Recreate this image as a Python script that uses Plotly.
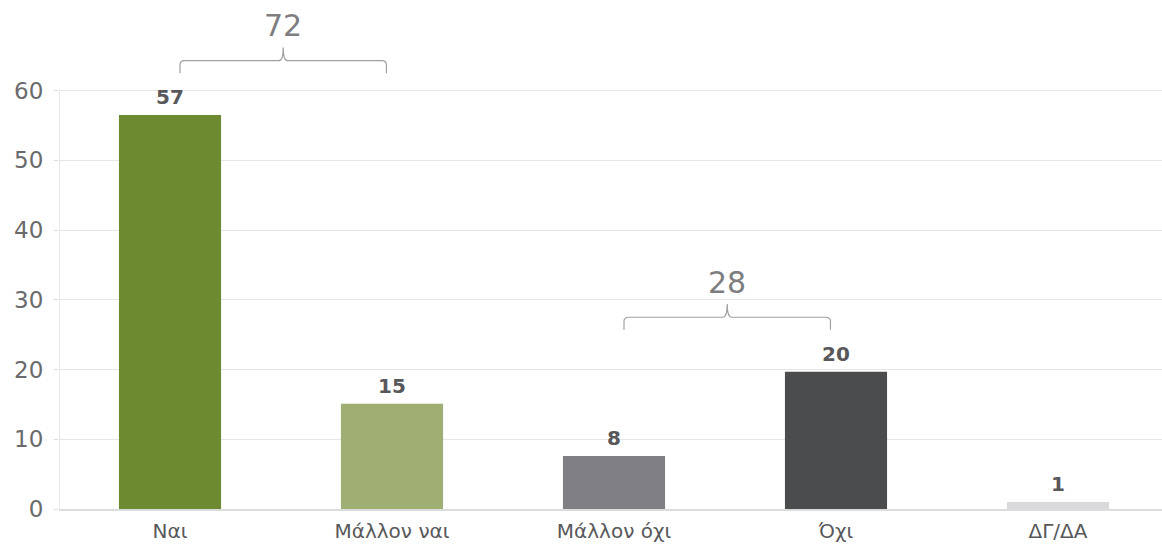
import plotly.graph_objects as go

categories = ["Ναι", "Μάλλον ναι", "Μάλλον όχι", "Όχι", "ΔΓ/ΔΑ"]
values = [56.5, 15.1, 7.6, 19.7, 1.0]
value_labels = ["57", "15", "8", "20", "1"]
bar_colors = ["#6d8a30", "#9fae72", "#808084", "#4b4c4e", "#d9d9db"]

# grouped totals: (first index, last index, label)
group_spans = [(0, 1, "72"), (2, 3, "28")]
y_ticks = [0, 10, 20, 30, 40, 50, 60]

FONT = "DejaVu Sans"

fig = go.Figure()
fig.add_trace(go.Bar(
    x=list(range(len(categories))), y=values,
    marker=dict(color=bar_colors, line=dict(width=0)),
    width=0.46,
    cliponaxis=False, hoverinfo="skip",
))
for i, (v, lab) in enumerate(zip(values, value_labels)):
    fig.add_annotation(x=i, y=v, text=f"<b>{lab}</b>", showarrow=False,
                       yanchor="bottom", yshift=4, xref="x", yref="y",
                       font=dict(family=FONT, size=20, color="#58585a"))

def bracket(x0, x1, ytop):
    xm = (x0 + x1) / 2
    dx, dy = 0.02, 0.6
    low = ytop - 1.8
    peak = ytop + 1.9
    return (f"M {x0},{low} L {x0},{ytop - dy} Q {x0},{ytop} {x0 + dx},{ytop} "
            f"L {xm - dx},{ytop} Q {xm},{ytop} {xm},{peak} "
            f"Q {xm},{ytop} {xm + dx},{ytop} L {x1 - dx},{ytop} "
            f"Q {x1},{ytop} {x1},{ytop - dy} L {x1},{low}")

for i0, i1, lab in group_spans:
    top = max(values[i0:i1 + 1]) + 7.8
    x0, x1 = i0 + 0.045, i1 - 0.025
    fig.add_shape(type="path", path=bracket(x0, x1, top), xref="x", yref="y",
                  line=dict(color="#a0a0a2", width=1.2))
    fig.add_annotation(x=(x0 + x1) / 2, y=top + 5.0, text=lab, showarrow=False,
                       font=dict(family=FONT, size=30, color="#7e7e80"),
                       xref="x", yref="y")

fig.update_layout(
    width=1162, height=544,
    margin=dict(l=59, r=0, t=7, b=35, autoexpand=False),
    paper_bgcolor="white", plot_bgcolor="white",
    showlegend=False,
)
fig.update_xaxes(
    range=[-0.5, 4.4685],
    tickvals=list(range(len(categories))), ticktext=categories,
    tickfont=dict(family=FONT, size=20, color="#58585a"),
    showgrid=False, zeroline=False,
    showline=True, linecolor="#dcdcdc", linewidth=1.5,
    ticks="", automargin=False, ticklabelstandoff=3,
)
# boundary ticks below axis
for b in [0.5, 1.5, 2.5, 3.5]:
    fig.add_shape(type="line", x0=b, x1=b, xref="x", y0=0, y1=-0.9, yref="y",
                  line=dict(color="#dcdcdc", width=1.2))
fig.update_yaxes(
    range=[0, 72], tickvals=y_ticks,
    tickfont=dict(family=FONT, size=23, color="#6a6a6c"),
    showgrid=True, gridcolor="#e6e6e6", gridwidth=1,
    zeroline=False, automargin=False,
    ticks="outside", ticklen=4, tickcolor="#dcdcdc",
    ticklabelstandoff=6,
)
# left axis line only up to 60
fig.add_shape(type="line", x0=-0.5, x1=-0.5, xref="x", y0=-0.9, y1=60, yref="y",
              line=dict(color="#dcdcdc", width=1.2))

fig.write_html("out.html", config={"displayModeBar": False},
               post_script="document.body.style.margin='0';document.body.style.overflow='hidden';")
